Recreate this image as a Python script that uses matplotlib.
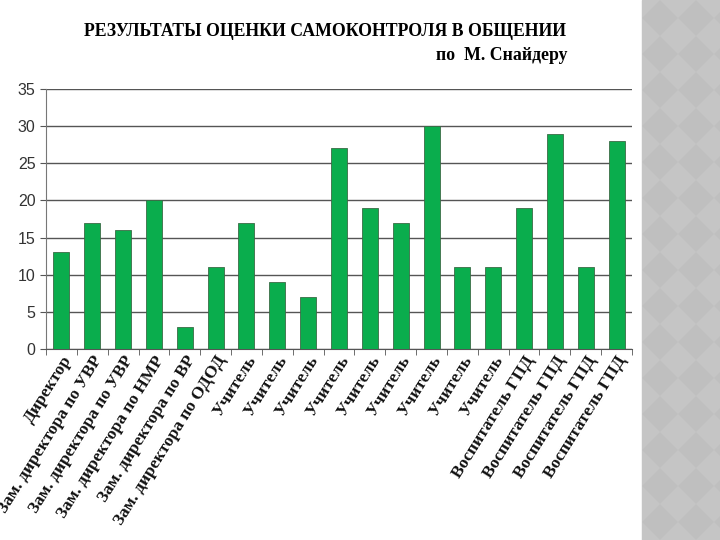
import matplotlib
matplotlib.use("Agg")
import matplotlib.pyplot as plt
from matplotlib.patches import Rectangle, Polygon
import numpy as np

categories = ["Директор", "Зам. директора по УВР", "Зам. директора по УВР",
              "Зам. директора по НМР", "Зам. директора по ВР", "Зам. директора по ОДОД",
              "Учитель", "Учитель", "Учитель", "Учитель", "Учитель", "Учитель",
              "Учитель", "Учитель", "Учитель",
              "Воспитатель ГПД", "Воспитатель ГПД", "Воспитатель ГПД", "Воспитатель ГПД"]
values = [13, 17, 16, 20, 3, 11, 17, 9, 7, 27, 19, 17, 30, 11, 11, 19, 29, 11, 28]
yticks = [0, 5, 10, 15, 20, 25, 30, 35]

fig = plt.figure(figsize=(7.2, 5.4), dpi=100)

# decorative grey strip on the right (subtle diamond checker)
fig.patches.append(Rectangle((642/720, 0), 78/720, 1, transform=fig.transFigure,
                             color="#bfbfbf", zorder=0))
step = 36
for row in range(-1, 33):
    for col in range(-1, 4):
        cx = 642 + col * step + (step / 2 if row % 2 else 0)
        cy = row * step / 2
        h = step / 2
        pts = [(cx, cy - h), (cx + h, cy), (cx, cy + h), (cx - h, cy)]
        pts = [(max(px, 642) / 720, 1 - py / 540) for px, py in pts]
        poly = Polygon(pts, closed=True, transform=fig.transFigure,
                       facecolor="#c5c5c5", edgecolor="none", zorder=0.5)
        if row % 2 == 0:
            fig.patches.append(poly)

ax = fig.add_axes([46/720, 1 - 349/540, 586/720, 260/540])
x = np.arange(len(values))
ax.bar(x, values, width=0.52, color="#0aad4d", edgecolor="#3a6b46", linewidth=0.6, zorder=3)
ax.set_xlim(-0.5, len(values) - 0.5)
ax.set_ylim(0, 35)
ax.set_yticks(yticks)
ax.set_yticklabels([str(v) for v in yticks], fontsize=11.5, color="#333333",
                   family="Liberation Sans")
ax.grid(axis="y", color="#555555", linewidth=1.0, zorder=0)
ax.set_axisbelow(True)
ax.set_xticks(x)
ax.set_xticklabels(categories, rotation=58, ha="right", rotation_mode="anchor",
                   fontsize=12.5, family="Liberation Serif", fontweight="bold", color="#111111")
ax.tick_params(axis="x", length=0, pad=3)
ax.set_xticks(np.arange(-0.5, len(values)), minor=True)
ax.tick_params(axis="x", which="minor", length=4, color="#555555")
ax.tick_params(axis="y", length=4, color="#555555")
for s in ["top", "right"]:
    ax.spines[s].set_visible(False)
ax.spines["left"].set_color("#777777")
ax.spines["bottom"].set_color("#555555")

fig.text(325/720, 1 - 32/540, "РЕЗУЛЬТАТЫ ОЦЕНКИ САМОКОНТРОЛЯ В ОБЩЕНИИ",
         ha="center", va="center", fontsize=12.8, family="Liberation Serif", fontweight="bold")
fig.text(567/720, 1 - 56/540, "по  М. Снайдеру",
         ha="right", va="center", fontsize=12.8, family="Liberation Serif", fontweight="bold")

fig.savefig("out.png", dpi=100)
